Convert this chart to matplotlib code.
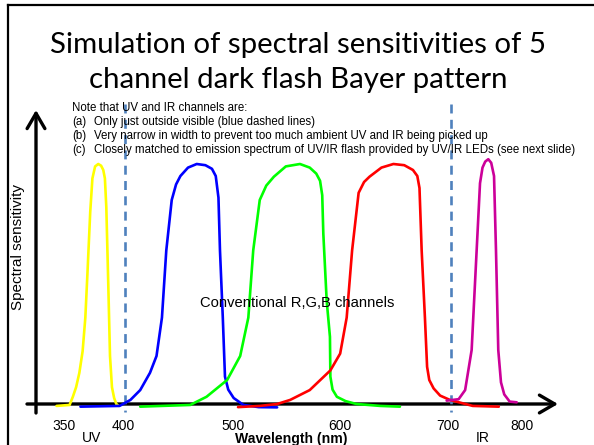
import matplotlib
matplotlib.use("Agg")
import matplotlib.pyplot as plt
from matplotlib.lines import Line2D

# ---------------------------------------------------------------------------
# Channel sensitivity curves (wavelength in nm, relative sensitivity)
# ---------------------------------------------------------------------------
uv_nm = [337, 349, 352, 355, 358, 361, 363.5, 365.5, 368, 370, 372.5, 375.4, 378, 380, 381.5, 382.8, 384.6, 386.2, 388, 390, 392, 394]
uv_s = [-0.008, -0.004, 0.03, 0.07, 0.13, 0.22, 0.36, 0.55, 0.80, 0.94, 0.99, 1.0, 0.993, 0.975, 0.94, 0.82, 0.5, 0.2, 0.07, 0.025, 0.0, -0.008]

blue_nm = [359, 395, 405, 414, 423, 429, 434, 438, 443, 447, 451, 458, 466, 474, 480, 483.5, 486, 487.4, 490, 492, 495, 500, 509, 523, 540]
blue_s = [-0.011, -0.008, 0.017, 0.058, 0.13, 0.2, 0.36, 0.64, 0.85, 0.915, 0.95, 0.985, 1.0, 0.995, 0.98, 0.95, 0.86, 0.64, 0.36, 0.114, 0.06, 0.025, -0.004, -0.013, -0.014]

green_nm = [414, 460, 475, 494, 506, 513.5, 518, 524, 530, 537, 548, 561, 570, 576, 579.5, 581.5, 582.5, 585.6, 588.6, 589, 591, 595, 603, 613, 635, 653]
green_s = [-0.011, -0.004, 0.03, 0.10, 0.2, 0.36, 0.64, 0.85, 0.91, 0.947, 0.99, 1.0, 0.985, 0.96, 0.93, 0.87, 0.71, 0.43, 0.28, 0.114, 0.06, 0.03, 0.012, 0.0, -0.008, -0.011]

red_nm = [504, 524, 540, 552, 570, 589, 598, 604, 609, 615, 620, 625, 636, 647, 657, 665, 669, 671, 673, 676, 678, 680, 684, 690, 699, 720, 744]
red_s = [-0.013, -0.008, 0.0, 0.017, 0.058, 0.14, 0.21, 0.36, 0.64, 0.88, 0.925, 0.947, 0.985, 1.0, 0.995, 0.975, 0.95, 0.9, 0.64, 0.36, 0.155, 0.1, 0.065, 0.035, 0.017, -0.008, -0.011]

ir_nm = [696, 707, 713, 719, 723.6, 726.7, 729, 731.5, 734.3, 737, 739.6, 741.4, 743.5, 746, 749, 754, 760.5]
ir_s = [0.014, 0.02, 0.058, 0.225, 0.64, 0.92, 0.985, 1.01, 1.02, 1.005, 0.95, 0.64, 0.225, 0.09, 0.04, 0.01, 0.007]

# Edges of the visible band (blue dashed markers)
visible_edges_nm = [400, 700]

# Wavelength labels along the horizontal axis
tick_labels = ["350", "400", "500", "600", "700", "800"]
tick_label_x = [64, 123, 233, 340, 448, 522]

title_lines = ["Simulation of spectral sensitivities of 5",
               "channel dark flash Bayer pattern"]
notes = ["Note that UV and IR channels are:",
         "(a)",
         "(b)",
         "(c)"]
note_items = ["Only just outside visible (blue dashed lines)",
              "Very narrow in width to prevent too much ambient UV and IR being picked up",
              "Closely matched to emission spectrum of UV/IR flash provided by UV/IR LEDs (see next slide)"]

# ---------------------------------------------------------------------------
W, H = 594, 445
fig = plt.figure(figsize=(W / 100, H / 100), dpi=100)
fig.patch.set_facecolor("white")

# pixel scale of the drawing area
k = 326 / 300.0          # pixels per nm
base_y = 404             # pixel row of the wavelength axis
unit = 240.0             # pixels per unit sensitivity
x0 = 400 - 125 / k

ax = fig.add_axes([0, 0, 1, 1])
ax.set_xlim(x0, x0 + W / k)
ax.set_ylim((base_y - H) / unit, base_y / unit)
ax.axis("off")


def px(x, y):
    """Pixel position (from top-left) to data coordinates."""
    return x0 + x / k, (base_y - y) / unit


def fpx(x, y):
    """Pixel position (from top-left) to figure fraction."""
    return x / W, 1 - y / H


# slide frame
fig.add_artist(Line2D([8 / W, 8 / W], [0, 1 - 5 / H], color="black", lw=1.6,
                      transform=fig.transFigure))
fig.add_artist(Line2D([8 / W, 1], [1 - 5 / H, 1 - 5 / H], color="black", lw=1.6,
                      transform=fig.transFigure))

# title
title_font = ["Lato", "DejaVu Sans"]
for line, y in zip(title_lines, [45, 80]):
    fig.text(*fpx(298, y), line, ha="center", va="center", fontsize=21.2,
             family=title_font)

# notes
note_font = ["Liberation Sans", "DejaVu Sans"]
note_fs = 8.3
fig.text(*fpx(72, 108), notes[0], ha="left", va="center", fontsize=note_fs, family=note_font)
for lab, item, y in zip(notes[1:], note_items, [122, 136, 150]):
    fig.text(*fpx(72, y), lab, ha="left", va="center", fontsize=note_fs, family=note_font)
    fig.text(*fpx(94.5, y), item, ha="left", va="center", fontsize=note_fs, family=note_font)

# axes with arrow heads
arrow = dict(arrowstyle="->,head_length=0.55,head_width=0.32", lw=2.4,
             color="black", mutation_scale=20, shrinkA=0, shrinkB=0)
ax.annotate("", xy=px(558, base_y), xytext=px(27, base_y), arrowprops=arrow)
ax.annotate("", xy=px(36, 110), xytext=px(36, 413), arrowprops=arrow)

# visible band edges
for wl in visible_edges_nm:
    ax.plot([wl, wl], [px(0, 104)[1], px(0, 412)[1]], color="#4F81BD", lw=1.9,
            ls=(0, (3.4, 2.4)), zorder=3)

# channel curves
curve_kw = dict(lw=1.9, solid_capstyle="round", solid_joinstyle="round", zorder=4)
ax.plot(uv_nm, uv_s, color="#FFFF00", **curve_kw)
ax.plot(blue_nm, blue_s, color="#0000FF", **curve_kw)
ax.plot(green_nm, green_s, color="#00FF00", **curve_kw)
ax.plot(red_nm, red_s, color="#FF0000", **curve_kw)
ax.plot(ir_nm, ir_s, color="#CC0099", **curve_kw)

# axis texts
lab_font = ["Liberation Sans", "DejaVu Sans"]
for lab, x in zip(tick_labels, tick_label_x):
    fig.text(*fpx(x, 425.5), lab, ha="center", va="center", fontsize=10, family=lab_font)
fig.text(*fpx(92, 438), "UV", ha="center", va="center", fontsize=10, family=lab_font)
fig.text(*fpx(483, 438), "IR", ha="center", va="center", fontsize=10, family=lab_font)
fig.text(*fpx(291.5, 438.5), "Wavelength (nm)", ha="center", va="center", fontsize=10.1,
         fontweight="bold", family=lab_font)
fig.text(*fpx(18, 247), "Spectral sensitivity", ha="center", va="center",
         rotation=90, fontsize=11, family=lab_font)
fig.text(*fpx(297, 303), "Conventional R,G,B channels", ha="center", va="center",
         fontsize=10.6, family=lab_font)

fig.savefig("out.png", dpi=100, facecolor="white")
